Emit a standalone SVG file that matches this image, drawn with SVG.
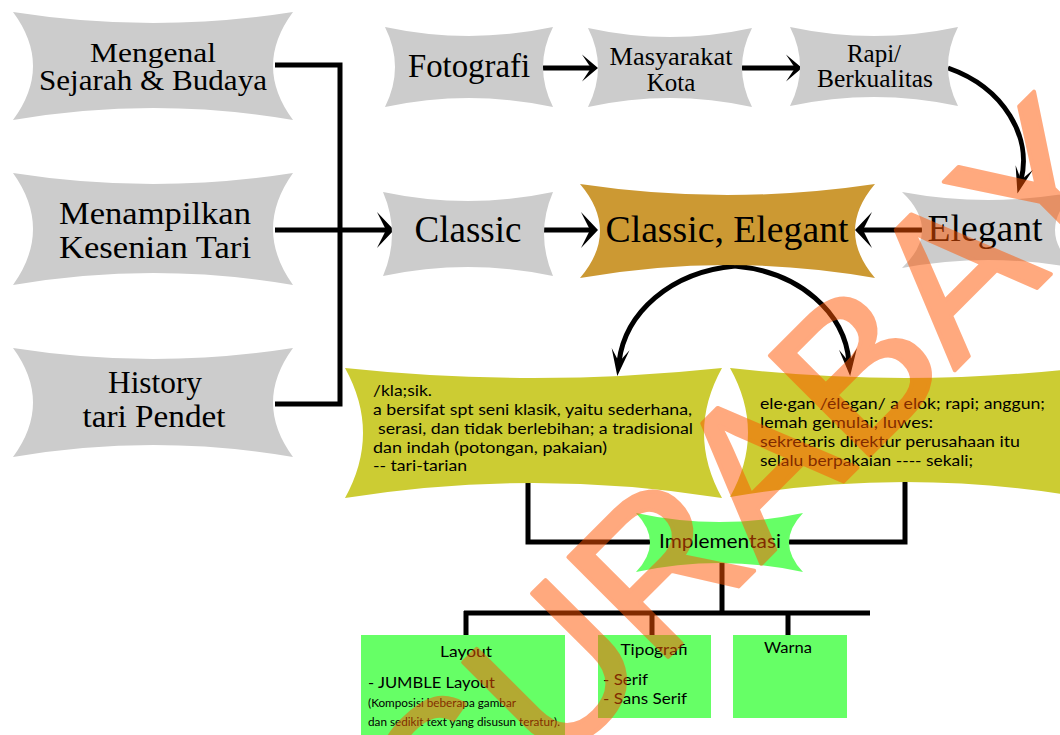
<svg xmlns="http://www.w3.org/2000/svg" width="1060" height="735" viewBox="0 0 1060 735">
<style>
.gray{fill:#CCCCCC}
.gold{fill:#CC9933}
.yel{fill:#CCCC33}
.grn{fill:#66FF66}
.serif{font-family:"Liberation Serif","Times New Roman",serif;fill:#000}
.sans{font-family:Lato,"Liberation Sans",sans-serif;fill:#000}
.mid{text-anchor:middle}
.conn{fill:none;stroke:#000;stroke-width:5}
</style>
<defs>
<marker id="ahWide" markerUnits="userSpaceOnUse" markerWidth="40" markerHeight="40" viewBox="-10 -20 20 40" refX="0" refY="0" orient="auto"><path d="M8,0 L-9,-18 L0,0 L-9,18 Z" fill="#000"/></marker>
<marker id="ahTop" markerUnits="userSpaceOnUse" markerWidth="40" markerHeight="40" viewBox="-10 -20 20 40" refX="0" refY="0" orient="auto"><path d="M7,0 L-9,-13.5 L0,0 L-9,13.5 Z" fill="#000"/></marker>
<marker id="ahCurve" markerUnits="userSpaceOnUse" markerWidth="40" markerHeight="40" viewBox="-20 -20 40 40" refX="0" refY="0" orient="auto"><path d="M14,0 L-13,-9 L0,0 L-13,9 Z" fill="#000"/></marker>
</defs>
<rect width="1060" height="735" fill="#fff"/>
<g id="connectors">
<path class="conn" d="M275,65 H340 V404 H275"/>
<path class="conn" d="M275,230 H386" marker-end="url(#ahWide)"/>
<path class="conn" d="M544,230 H590" marker-end="url(#ahWide)"/>
<path class="conn" d="M922,230 H863" marker-end="url(#ahWide)"/>
<path class="conn" d="M543,68 H591" marker-end="url(#ahTop)"/>
<path class="conn" d="M742,68 H795" marker-end="url(#ahTop)"/>
<path class="conn" d="M948,68 C1005,88 1032,138 1021,180" marker-end="url(#ahCurve)"/>
<path class="conn" d="M735,266 C670,272 625,313 619,362" marker-end="url(#ahCurve)"/>
<path class="conn" d="M735,266 C800,272 845,313 849,362" marker-end="url(#ahCurve)"/>
<path class="conn" d="M528,482 V542 H905 V480"/>
<path class="conn" d="M722,560 V613 M464,613 H870 M466,611 V636 M652,611 V636 M788,611 V636"/>
</g>
<g id="n-mengenal">
<path class="gray" d="M13,12 Q153,34 293,12 Q253,66 293,120 Q153,96 13,120 Q53,66 13,12 Z"/>
<text class="serif mid" font-size="28" x="153" y="62" textLength="126" lengthAdjust="spacingAndGlyphs">Mengenal</text>
<text class="serif mid" font-size="29" x="153" y="90" textLength="228" lengthAdjust="spacingAndGlyphs">Sejarah &amp; Budaya</text>
</g>
<g id="n-menampilkan">
<path class="gray" d="M13,173 Q153,195 293,173 Q253,229 293,285 Q153,261 13,285 Q53,229 13,173 Z"/>
<text class="serif mid" font-size="32" x="155" y="224" textLength="192" lengthAdjust="spacingAndGlyphs">Menampilkan</text>
<text class="serif mid" font-size="32" x="155" y="258" textLength="192" lengthAdjust="spacingAndGlyphs">Kesenian Tari</text>
</g>
<g id="n-history">
<path class="gray" d="M13,348 Q153,370 293,348 Q253,402.5 293,457 Q153,433 13,457 Q53,402.5 13,348 Z"/>
<text class="serif mid" font-size="32" x="155" y="393" textLength="94" lengthAdjust="spacingAndGlyphs">History</text>
<text class="serif mid" font-size="32" x="154" y="427" textLength="143" lengthAdjust="spacingAndGlyphs">tari Pendet</text>
</g>
<g id="n-fotografi">
<path class="gray" d="M385,27 Q469,45 553,27 Q533,67 553,107 Q469,89 385,107 Q405,67 385,27 Z"/>
<text class="serif mid" font-size="33" x="469" y="77" textLength="122" lengthAdjust="spacingAndGlyphs">Fotografi</text>
</g>
<g id="n-masyarakat">
<path class="gray" d="M588,28 Q670,46 752,28 Q732,67.5 752,107 Q670,89 588,107 Q608,67.5 588,28 Z"/>
<text class="serif mid" font-size="25" x="671" y="65" textLength="123" lengthAdjust="spacingAndGlyphs">Masyarakat</text>
<text class="serif mid" font-size="25" x="671" y="91">Kota</text>
</g>
<g id="n-rapi">
<path class="gray" d="M790,27 Q874,45 958,27 Q938,66.5 958,106 Q874,88 790,106 Q810,66.5 790,27 Z"/>
<text class="serif mid" font-size="25" x="874" y="62">Rapi/</text>
<text class="serif mid" font-size="25" x="875" y="87" textLength="116" lengthAdjust="spacingAndGlyphs">Berkualitas</text>
</g>
<g id="n-classic">
<path class="gray" d="M383,192 Q468,210 553,192 Q535,234 553,276 Q468,258 383,276 Q401,234 383,192 Z"/>
<text class="serif mid" font-size="37" x="468" y="242" textLength="107" lengthAdjust="spacingAndGlyphs">Classic</text>
</g>
<g id="n-classic-elegant">
<path class="gold" d="M580,184 Q727.5,206 875,184 Q835,231 875,278 Q727.5,252 580,278 Q620,231 580,184 Z"/>
<text class="serif mid" font-size="38" x="727" y="242" textLength="243" lengthAdjust="spacingAndGlyphs">Classic, Elegant</text>
</g>
<g id="n-elegant">
<path class="gray" d="M902,192 Q988.5,208 1075,192 Q1035,230 1075,268 Q988.5,252 902,268 Q942,230 902,192 Z"/>
<text class="serif mid" font-size="38" x="985" y="241" textLength="115" lengthAdjust="spacingAndGlyphs">Elegant</text>
</g>
<g id="n-klasik">
<path class="yel" d="M345,368 Q533.5,388 722,368 Q686,433 722,498 Q533.5,468 345,498 Q381,433 345,368 Z"/>
<g class="sans" font-size="16">
<text x="373" y="396" textLength="59" lengthAdjust="spacingAndGlyphs">/kla;sik.</text>
<text x="373" y="415" textLength="319" lengthAdjust="spacingAndGlyphs">a bersifat spt seni klasik, yaitu sederhana,</text>
<text x="378" y="434" textLength="315" lengthAdjust="spacingAndGlyphs">serasi, dan tidak berlebihan; a tradisional</text>
<text x="373" y="453" textLength="234" lengthAdjust="spacingAndGlyphs">dan indah (potongan, pakaian)</text>
<text x="373" y="471" textLength="94" lengthAdjust="spacingAndGlyphs">-- tari-tarian</text>
</g>
</g>
<g id="n-elegan">
<path class="yel" d="M730,368 Q905,388 1080,368 Q1044,432.5 1080,497 Q905,467 730,497 Q766,432.5 730,368 Z"/>
<g class="sans" font-size="16">
<text x="760" y="409" textLength="285" lengthAdjust="spacingAndGlyphs">ele·gan /élegan/ a elok; rapi; anggun;</text>
<text x="760" y="428" textLength="173" lengthAdjust="spacingAndGlyphs">lemah gemulai; luwes:</text>
<text x="760" y="447" textLength="260" lengthAdjust="spacingAndGlyphs">sekretaris direktur perusahaan itu</text>
<text x="760" y="466" textLength="213" lengthAdjust="spacingAndGlyphs">selalu berpakaian ---- sekali;</text>
</g>
</g>
<g id="n-implementasi">
<path class="grn" d="M636,513 Q719.5,531 803,513 Q775,542.5 803,572 Q719.5,554 636,572 Q664,542.5 636,513 Z"/>
<text class="sans mid" font-size="19" x="720" y="548" textLength="122" lengthAdjust="spacingAndGlyphs">Implementasi</text>
</g>
<g id="n-layout">
<rect class="grn" x="361" y="635" width="204" height="100"/>
<text class="sans mid" font-size="16" x="466" y="657" textLength="52" lengthAdjust="spacingAndGlyphs">Layout</text>
<text class="sans" font-size="16" x="368" y="688" textLength="127" lengthAdjust="spacingAndGlyphs">- JUMBLE Layout</text>
<text class="sans" font-size="11" x="368" y="707" textLength="148" lengthAdjust="spacingAndGlyphs">(Komposisi beberapa gambar</text>
<text class="sans" font-size="11" x="368" y="726" textLength="192" lengthAdjust="spacingAndGlyphs">dan sedikit text yang disusun teratur).</text>
</g>
<g id="n-tipografi">
<rect class="grn" x="598" y="635" width="113" height="83"/>
<text class="sans mid" font-size="16" x="654" y="655" textLength="67" lengthAdjust="spacingAndGlyphs">Tipografi</text>
<text class="sans" font-size="16" x="603" y="685" textLength="45" lengthAdjust="spacingAndGlyphs">- Serif</text>
<text class="sans" font-size="16" x="603" y="704" textLength="84" lengthAdjust="spacingAndGlyphs">- Sans Serif</text>
</g>
<g id="n-warna">
<rect class="grn" x="733" y="635" width="114" height="83"/>
<text class="sans mid" font-size="16" x="788" y="653" textLength="48" lengthAdjust="spacingAndGlyphs">Warna</text>
</g>
<g id="watermark" transform="translate(455,870) rotate(-45)" opacity="0.5">
<text x="0" y="0" font-family="'Liberation Sans',Arial,sans-serif" font-size="205" fill="#FF5500" stroke="#FF5500" stroke-width="4" stroke-linejoin="round">SURABAYA</text>
</g>
</svg>
